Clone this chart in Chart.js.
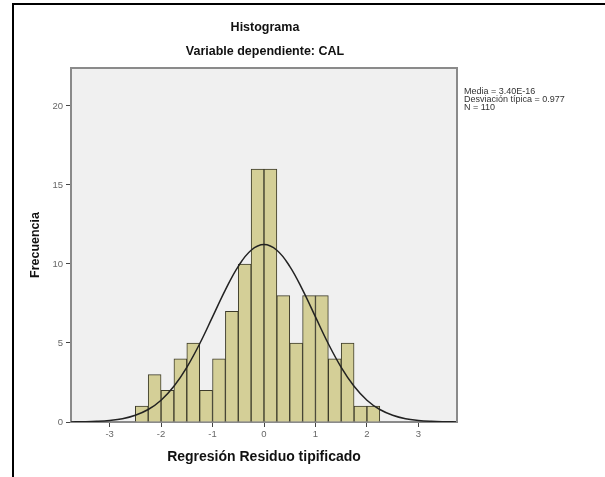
<!DOCTYPE html>
<html><head><meta charset="utf-8">
<script src="https://cdn.jsdelivr.net/npm/chart.js@4"></script>
<style>html,body{margin:0;padding:0;background:#fff;overflow:hidden}</style>
</head><body>
<canvas id="c" width="605" height="477" style="display:block;width:605px;height:477px"></canvas>
<script>
// ---- data ----
const binCenters = [-2.375,-2.125,-1.875,-1.625,-1.375,-1.125,-0.875,-0.625,-0.375,-0.125,0.125,0.375,0.625,0.875,1.125,1.375,1.625,1.875,2.125];
const frequencies = [1,3,2,4,5,2,4,7,10,16,16,8,5,8,8,4,5,1,1];
const curveX = [-3.75,-3.5,-3.25,-3,-2.75,-2.5,-2.25,-2,-1.75,-1.5,-1.25,-1,-0.75,-0.5,-0.25,0,0.25,0.5,0.75,1,1.25,1.5,1.75,2,2.25,2.5,2.75,3,3.25,3.5,3.75];
const curveY = [0.007,0.018,0.044,0.10,0.21,0.43,0.79,1.38,2.26,3.46,4.95,6.65,8.36,9.85,10.87,11.23,10.87,9.85,8.36,6.65,4.95,3.46,2.26,1.38,0.79,0.43,0.21,0.10,0.044,0.018,0.007];
const xTicks = [-3,-2,-1,0,1,2,3];
const yTicks = [0,5,10,15,20];
const titleLines = ['Histograma','Variable dependiente: CAL'];
const statsLines = ['Media = 3.40E-16','Desviación típica = 0.977','N = 110'];
const xTitle = 'Regresión Residuo tipificado';
const yTitle = 'Frecuencia';

const FONT = '"Liberation Sans", Arial, sans-serif';

const decor = {
  id: 'decor',
  beforeDraw(chart) {
    const {ctx, chartArea: a} = chart;
    ctx.save();
    ctx.fillStyle = '#f0f0f0';
    ctx.fillRect(a.left, a.top, a.right - a.left, a.bottom - a.top);
    ctx.restore();
  },
  afterDraw(chart) {
    const {ctx, chartArea: a} = chart;
    ctx.save();
    // plot top/right border
    ctx.strokeStyle = '#8a8a8a';
    ctx.lineWidth = 2;
    ctx.beginPath();
    ctx.moveTo(a.left, a.top);
    ctx.lineTo(a.right, a.top);
    ctx.lineTo(a.right, a.bottom);
    ctx.stroke();
    // outer frame
    ctx.strokeStyle = '#000';
    ctx.lineWidth = 2;
    ctx.beginPath();
    ctx.moveTo(13, 477);
    ctx.lineTo(13, 4);
    ctx.lineTo(605, 4);
    ctx.stroke();
    // titles
    const cx = (a.left + a.right) / 2 + 1;
    ctx.fillStyle = '#111';
    ctx.textAlign = 'center';
    ctx.textBaseline = 'middle';
    ctx.font = 'bold 12.5px ' + FONT;
    ctx.fillText(titleLines[0], cx, 28);
    ctx.fillText(titleLines[1], cx, 52);
    // stats
    ctx.fillStyle = '#333';
    ctx.textAlign = 'left';
    ctx.font = '9px ' + FONT;
    statsLines.forEach((s, i) => ctx.fillText(s, a.right + 7, 92 + i * 8));
    ctx.restore();
  }
};

new Chart(document.getElementById('c'), {
  type: 'bar',
  data: {
    datasets: [
      {
        type: 'line',
        data: curveX.map((x, i) => ({x, y: curveY[i]})),
        borderColor: '#222',
        borderWidth: 1.5,
        pointRadius: 0,
        tension: 0.4,
        fill: false,
        order: 0
      },
      {
        type: 'bar',
        data: binCenters.map((x, i) => ({x, y: frequencies[i]})),
        backgroundColor: '#d4cf97',
        borderColor: '#3d3b2a',
        borderWidth: 1,
        barPercentage: 1,
        categoryPercentage: 1,
        order: 1
      }
    ]
  },
  options: {
    responsive: false,
    animation: false,
    devicePixelRatio: 1,
    layout: {padding: {top: 68, right: 148, left: 0, bottom: 0}},
    plugins: {legend: {display: false}, tooltip: {enabled: false}, title: {display: false}},
    scales: {
      x: {
        type: 'linear',
        min: -3.75, max: 3.75,
        offset: false,
        afterBuildTicks: s => { s.ticks = xTicks.map(v => ({value: v})); },
        afterFit: s => { s.height = 55; },
        grid: {drawOnChartArea: false, drawTicks: true, tickLength: 5, tickColor: '#444', offset: false},
        border: {display: true, color: '#8a8a8a', width: 2},
        ticks: {color: '#666', font: {family: FONT, size: 9.5}, padding: 2, maxRotation: 0, autoSkip: false, callback: v => String(v)},
        title: {display: true, text: xTitle, color: '#111', font: {family: FONT, size: 14, weight: 'bold'}, padding: {top: 0, bottom: 11}}
      },
      y: {
        type: 'linear',
        min: 0, max: 22.4,
        afterBuildTicks: s => { s.ticks = yTicks.map(v => ({value: v})); },
        afterFit: s => { s.width = 71; },
        grid: {drawOnChartArea: false, drawTicks: true, tickLength: 5, tickColor: '#444'},
        border: {display: true, color: '#8a8a8a', width: 2},
        ticks: {color: '#666', font: {family: FONT, size: 9.5}, padding: 3, callback: v => String(v)},
        title: {display: true, text: yTitle, color: '#111', font: {family: FONT, size: 12.5, weight: 'bold'}, padding: {top: 28, bottom: 0}}
      }
    }
  },
  plugins: [decor]
});
</script>
</body></html>
